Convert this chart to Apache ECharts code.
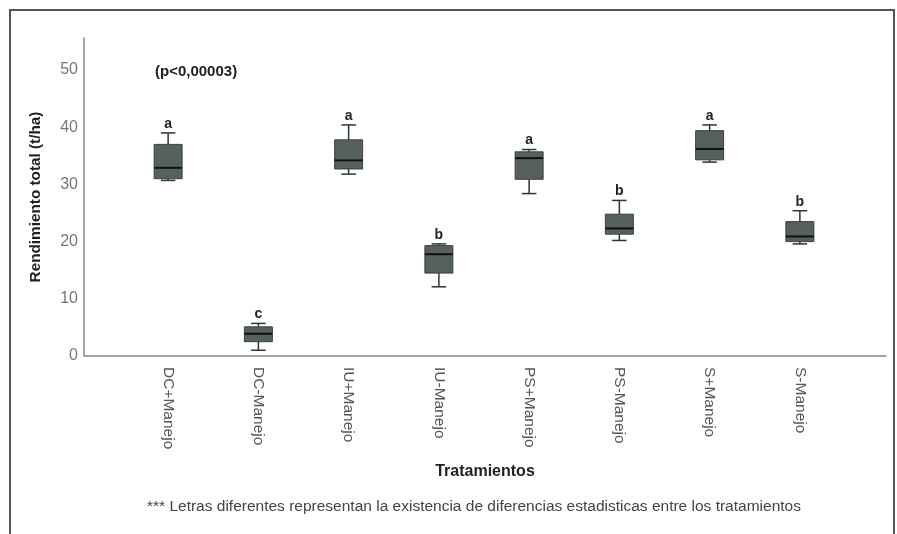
<!DOCTYPE html>
<html>
<head>
<meta charset="utf-8">
<script src="https://cdn.jsdelivr.net/npm/echarts@6/dist/echarts.min.js"></script>
<style>
html,body{margin:0;padding:0;background:#fff;}
#chart{width:897px;height:534px;}
</style>
</head>
<body>
<div id="chart"></div>
<script>
const categories = ['DC+Manejo','DC-Manejo','IU+Manejo','IU-Manejo','PS+Manejo','PS-Manejo','S+Manejo','S-Manejo'];
const minVals = [30.7, 1.0, 31.8, 12.1, 28.4, 20.2, 33.9, 19.6];
const q1Vals  = [31.0, 2.5, 32.7, 14.5, 30.9, 21.3, 34.3, 20.0];
const medVals = [32.9, 3.9, 34.2, 17.8, 34.6, 22.3, 36.2, 20.9];
const q3Vals  = [37.0, 5.1, 37.8, 19.3, 35.7, 24.8, 39.4, 23.5];
const maxVals = [39.0, 5.7, 40.4, 19.6, 36.1, 27.2, 40.4, 25.4];
const letters = ['a','c','a','b','a','b','a','b'];
const yTicks = [0, 10, 20, 30, 40, 50];
const yMax = 55.6;
const pText = '(p<0,00003)';
const yName = 'Rendimiento total (t/ha)';
const xName = 'Tratamientos';
const footnote = '*** Letras diferentes representan la existencia de diferencias estadisticas entre los tratamientos';

const data = categories.map((c, i) => [i, minVals[i], q1Vals[i], medVals[i], q3Vals[i], maxVals[i], letters[i]]);

const font = 'Liberation Sans, Arial, sans-serif';

function renderItem(params, api) {
  const idx = api.value(0);
  const pMin = api.coord([idx, api.value(1)]);
  const pQ1 = api.coord([idx, api.value(2)]);
  const pMed = api.coord([idx, api.value(3)]);
  const pQ3 = api.coord([idx, api.value(4)]);
  const pMax = api.coord([idx, api.value(5)]);
  const band = api.size([1, 0])[0];
  const bw = band * 0.31;
  const cw = bw * 0.52;
  const cx = pMed[0];
  const stroke = '#2e3331';
  return {
    type: 'group',
    children: [
      { type: 'line', shape: { x1: cx, y1: pMax[1], x2: cx, y2: pQ3[1] }, style: { stroke: stroke, lineWidth: 1.5 } },
      { type: 'line', shape: { x1: cx, y1: pMin[1], x2: cx, y2: pQ1[1] }, style: { stroke: stroke, lineWidth: 1.5 } },
      { type: 'line', shape: { x1: cx - cw / 2, y1: pMax[1], x2: cx + cw / 2, y2: pMax[1] }, style: { stroke: stroke, lineWidth: 1.5 } },
      { type: 'line', shape: { x1: cx - cw / 2, y1: pMin[1], x2: cx + cw / 2, y2: pMin[1] }, style: { stroke: stroke, lineWidth: 1.5 } },
      { type: 'rect', shape: { x: cx - bw / 2, y: pQ3[1], width: bw, height: pQ1[1] - pQ3[1] }, style: { fill: '#56605d', stroke: '#3a403e', lineWidth: 1 } },
      { type: 'line', shape: { x1: cx - bw / 2, y1: pMed[1], x2: cx + bw / 2, y2: pMed[1] }, style: { stroke: '#111', lineWidth: 2 } },
      { type: 'text', style: { x: cx, y: pMax[1] - 9, text: api.value(6), fill: '#222', font: 'bold 14px ' + font, align: 'center', verticalAlign: 'middle' } }
    ]
  };
}

const chart = echarts.init(document.getElementById('chart'), null, { renderer: 'canvas' });
chart.setOption({
  backgroundColor: '#fff',
  animation: false,
  grid: [
    { left: 84, right: 11, top: 38, bottom: 178 },
    { left: 123, right: 52, top: 38, bottom: 178 }
  ],
  xAxis: [
    { type: 'value', gridIndex: 0, min: 0, max: 1, axisLine: { show: true, onZero: false, lineStyle: { color: '#888', width: 1.5 } }, axisTick: { show: false }, axisLabel: { show: false }, splitLine: { show: false },
      name: xName, nameLocation: 'middle', nameGap: 108, nameTextStyle: { fontFamily: font, fontWeight: 'bold', fontSize: 16, color: '#222' } },
    { type: 'category', gridIndex: 1, data: categories, axisLine: { show: false }, axisTick: { show: false }, splitLine: { show: false },
      axisLabel: { rotate: -90, margin: 11, fontFamily: font, fontSize: 15.5, color: '#555' } }
  ],
  yAxis: [
    { type: 'value', gridIndex: 0, min: 0, max: yMax, interval: 10, axisLine: { show: true, lineStyle: { color: '#888', width: 1.5 } }, axisTick: { show: false }, splitLine: { show: false },
      axisLabel: { showMaxLabel: false, margin: 6, fontFamily: font, fontSize: 16, color: '#777', formatter: v => yTicks.includes(v) ? String(v) : '' },
      name: yName, nameLocation: 'middle', nameGap: 41, nameTextStyle: { fontFamily: font, fontWeight: 'bold', fontSize: 15.3, color: '#222' } },
    { type: 'value', gridIndex: 1, min: 0, max: yMax, interval: 10, show: false }
  ],
  graphic: [
    { type: 'rect', shape: { x: 10, y: 10, width: 884, height: 540 }, style: { fill: 'none', stroke: '#555', lineWidth: 2 }, silent: true },
    { type: 'text', left: 155, top: 64, style: { text: pText, font: 'bold 15px ' + font, fill: '#222' } },
    { type: 'text', left: 147, top: 499, style: { text: footnote, font: '15.5px ' + font, fill: '#444' } }
  ],
  series: [
    { type: 'custom', xAxisIndex: 1, yAxisIndex: 1, renderItem: renderItem, data: data, encode: { x: 0, y: [1, 2, 3, 4, 5] } }
  ]
});
</script>
</body>
</html>
